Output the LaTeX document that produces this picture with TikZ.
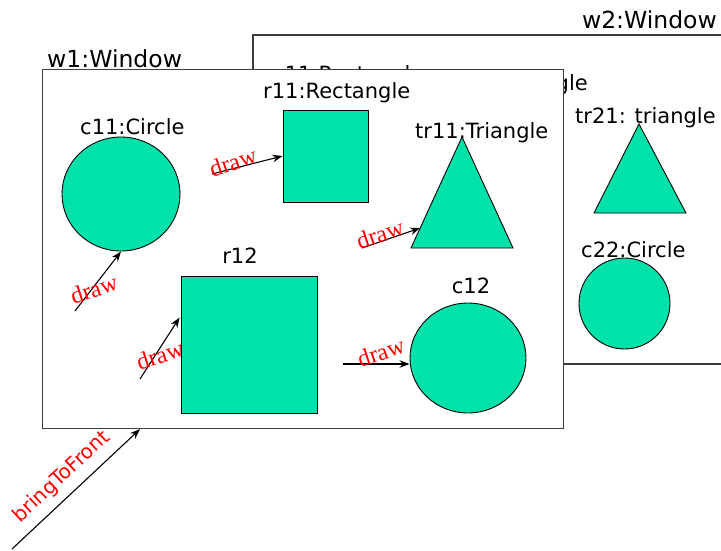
\documentclass[tikz,border=0pt]{standalone}
\usepackage{fontspec}
\newfontfamily\lblfont{DejaVu Sans}
\newfontfamily\drawfont{Liberation Serif}
\usetikzlibrary{arrows.meta,calc,shapes.geometric}
\definecolor{shapefill}{RGB}{0,226,170}
\definecolor{winline}{RGB}{60,60,60}
\begin{document}
\begin{tikzpicture}[x=1pt,y=-1pt,
  lbl/.style={font=\lblfont\fontsize{21}{24}\selectfont, inner sep=0pt},
  winlbl/.style={font=\lblfont\fontsize{23.5}{27}\selectfont, inner sep=0pt},
  drawlbl/.style={font=\drawfont\fontsize{24}{27}\selectfont, text=red, inner sep=0pt, rotate=18},
  shp/.style={draw=black, fill=shapefill, line width=0.9pt},
  win/.style={draw=winline, line width=1.1pt},
  arr/.style={-{Stealth[length=10pt,width=7.5pt]}, line width=1.1pt}]
\useasboundingbox (0,0) rectangle (721,550);

% ---- w2 (behind)
\coordinate (w2tr) at (730,35);
\coordinate (w2tl) at (253,35);
\coordinate (w2bl) at (253,364);
\coordinate (w2br) at (730,364);
\draw[win] (w2tr) -- (w2tl) -- (w2bl) -- (w2br);
\node[winlbl, anchor=base east] (w2lbl) at (717,28) {w2:Window};
\node[lbl, anchor=base west] (hr) at (276,81) {r11:Rectangle};
\node[lbl, anchor=base east] (ht) at (588,90) {tr11:Triangle};
\coordinate (t21a) at (639,124);
\coordinate (t21r) at (686,213);
\coordinate (t21l) at (594,213);
\draw[shp] (t21a) -- (t21r) -- (t21l) -- cycle;
\node[lbl, anchor=base west] (tr21lbl) at (575,123) {tr21: triangle};
\node[shp, circle, minimum size=91, inner sep=0pt] (c22) at (624.5,303.5) {};
\node[lbl, anchor=base west] (c22lbl) at (581,257) {c22:Circle};

% ---- w1 (front)
\node[win, fill=white, minimum width=521, minimum height=359, inner sep=0pt, anchor=north west] (w1) at (42,69) {};
\node[winlbl, anchor=base west] (w1lbl) at (47,67) {w1:Window};

\node[shp, ellipse, minimum width=118, minimum height=114, inner sep=0pt] (c11) at (121,194) {};
\node[lbl, anchor=base west] (c11lbl) at (80,134) {c11:Circle};

\node[shp, rectangle, minimum width=85, minimum height=92, inner sep=0pt] (r11) at (325.5,156) {};
\node[lbl, anchor=base west] (r11lbl) at (263,98) {r11:Rectangle};

\coordinate (t11a) at (462,137);
\coordinate (t11r) at (513,248);
\coordinate (t11l) at (411,248);
\draw[shp] (t11a) -- (t11r) -- (t11l) -- cycle;
\node[lbl, anchor=base west] (tr11lbl) at (415,138) {tr11:Triangle};

\node[shp, rectangle, minimum width=136, minimum height=137, inner sep=0pt] (r12) at (249,344.5) {};
\node[lbl, anchor=base] (r12lbl) at (240,263) {r12};

\node[shp, ellipse, minimum width=116, minimum height=110, inner sep=0pt] (c12) at (468,358) {};
\node[lbl, anchor=base] (c12lbl) at (471,293) {c12};

% ---- draw arrows
\coordinate (d1s) at (75,311);
\draw[arr] (d1s) -- (c11.south);
\node[drawlbl] (d1l) at (94,289) {draw};

\coordinate (d2s) at (140,379);
\coordinate (d2e) at ($(r12.north west)+(-1,42)$);
\draw[arr] (d2s) -- (d2e);
\node[drawlbl] (d2l) at (160,355) {draw};

\coordinate (d3s) at (212,174);
\draw[arr] (d3s) -- (r11.west);
\node[drawlbl] (d3l) at (233,162) {draw};

\coordinate (d4s) at (362,248);
\coordinate (d4e) at ($(t11a)!0.82!(t11l)$);
\draw[arr] (d4s) -- (d4e);
\node[drawlbl] (d4l) at (380,234) {draw};

\coordinate (d5s) at (343,364);
\draw[arr] (d5s) -- (d5s -| c12.west);
\node[drawlbl] (d5l) at (381,352) {draw};

% ---- bringToFront
\coordinate (bs) at (12,549);
\coordinate (be) at ($(w1.south west)+(98,0)$);
\draw[arr] (bs) -- (be);
\node[font=\lblfont\fontsize{20}{24}\selectfont, text=red, inner sep=0pt, rotate=43] (btf) at (62,477) {bringToFront};
\end{tikzpicture}
\end{document}
